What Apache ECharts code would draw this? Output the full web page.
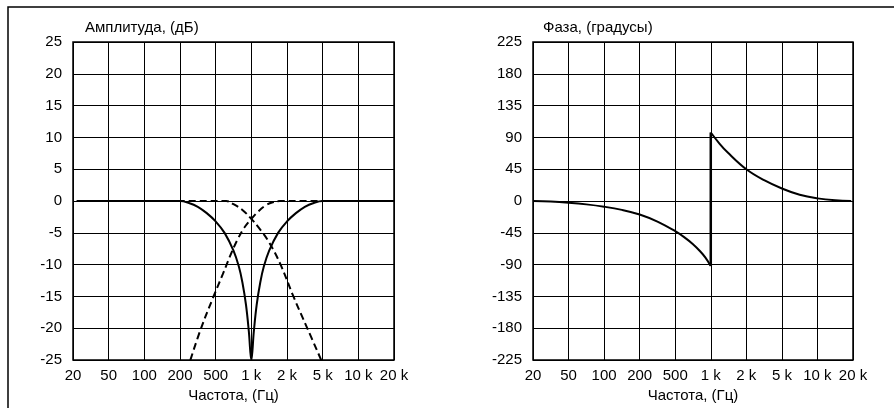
<!DOCTYPE html>
<html>
<head>
<meta charset="utf-8">
<script src="https://cdn.jsdelivr.net/npm/echarts@6.0.0/dist/echarts.min.js"></script>
<style>
  html, body { margin: 0; padding: 0; background: #fff; }
  #chart { width: 894px; height: 408px; }
</style>
</head>
<body>
<div id="chart"></div>
<script>
// frequency tick labels, equally spaced (index 0..9)
const freqLabels = ['20', '50', '100', '200', '500', '1 k', '2 k', '5 k', '10 k', '20 k'];

// amplitude, dB  [index, value]
const notchAmp = [
  [0.1, 0], [2.5, 0], [3, 0], [3.25, -0.3], [3.5, -0.9], [3.75, -1.9], [4, -3.2], [4.25, -5],
  [4.5, -7.8], [4.65, -10.3], [4.75, -12.8], [4.85, -16.3], [4.93, -20.5], [5, -25],
  [5.07, -20.5], [5.15, -16.3], [5.25, -12.8], [5.35, -10.3], [5.5, -7.8], [5.75, -5],
  [6, -3.2], [6.25, -1.9], [6.5, -0.9], [6.75, -0.3], [7, 0], [7.5, 0], [9, 0]
];
const lowpassAmp = [
  [1.7, 0], [3.5, 0], [4.3, 0], [4.5, -0.5], [4.75, -1.4], [5, -2.8], [5.25, -4.5], [5.5, -6.5],
  [5.82, -10], [6.18, -15], [6.57, -20], [6.96, -25]
];
const highpassAmp = [
  [3.29, -25], [3.59, -20], [3.94, -15], [4.2, -11.5], [4.4, -8.7], [4.6, -6.2], [4.8, -4.2],
  [5, -2.8], [5.2, -1.6], [5.4, -0.7], [5.6, -0.2], [5.8, 0], [6.5, 0], [8.3, 0]
];

// phase, degrees
const phaseLow = [
  [0, 0], [0.5, -0.8], [1, -2.4], [1.5, -4.7], [2, -8], [2.5, -12.5], [3, -19], [3.5, -29], [4, -42.6],
  [4.25, -51], [4.5, -61], [4.7, -71], [4.85, -80], [5, -92]
];
const phaseJump = [[5, -92], [5, 97]];
const phaseHigh = [
  [5, 97], [5.25, 81], [5.47, 69], [6, 45], [6.5, 29.5], [7, 17.8], [7.5, 8.9],
  [8, 3.8], [8.5, 1], [8.95, 0]
];

const font = 'Liberation Sans, Arial, sans-serif';
const fs = 15;
const chart = echarts.init(document.getElementById('chart'));

function xAxis(gi) {
  return {
    type: 'value', gridIndex: gi, min: 0, max: 9, interval: 1,
    name: 'Частота, (Гц)', nameLocation: 'middle', nameGap: 27,
    nameTextStyle: { color: '#000', fontSize: fs, fontFamily: font },
    axisLine: { show: false }, axisTick: { show: false },
    axisLabel: { margin: 8, color: '#000', fontSize: fs, fontFamily: font,
      formatter: v => freqLabels[v] },
    splitLine: { lineStyle: { color: '#000', width: 1 } }
  };
}
function yAxis(gi, min, max, step) {
  return {
    type: 'value', gridIndex: gi, min: min, max: max, interval: step,
    axisLine: { show: false }, axisTick: { show: false },
    axisLabel: { margin: 11, color: '#000', fontSize: fs, fontFamily: font },
    splitLine: { lineStyle: { color: '#000', width: 1 } }
  };
}
function line(data, xi, opts) {
  return Object.assign({
    type: 'line', data: data, xAxisIndex: xi, yAxisIndex: xi,
    showSymbol: false, symbol: 'none', smooth: 0.4,
    lineStyle: { color: '#000', width: 2 }, animation: false
  }, opts || {});
}

chart.setOption({
  backgroundColor: '#fff',
  animation: false,
  grid: [
    { left: 73, top: 42, width: 321, height: 320, show: true, borderColor: '#000', borderWidth: 1.5, backgroundColor: 'transparent' },
    { left: 533, top: 42, width: 320, height: 320, show: true, borderColor: '#000', borderWidth: 1.5, backgroundColor: 'transparent' }
  ],
  xAxis: [xAxis(0), xAxis(1)],
  yAxis: [yAxis(0, -25, 25, 5), yAxis(1, -225, 225, 45)],
  graphic: [
    { type: 'rect', shape: { x: 8, y: 7, width: 920, height: 440 },
      style: { fill: 'none', stroke: '#000', lineWidth: 1.5 }, silent: true },
    { type: 'text', left: 85, top: 20,
      style: { text: 'Амплитуда, (дБ)', fill: '#000', font: fs + 'px ' + font } },
    { type: 'text', left: 543, top: 20,
      style: { text: 'Фаза, (градусы)', fill: '#000', font: fs + 'px ' + font } }
  ],
  series: [
    line(notchAmp, 0),
    line(lowpassAmp, 0, { lineStyle: { color: '#000', width: 2, type: [7, 4] } }),
    line(highpassAmp, 0, { lineStyle: { color: '#000', width: 2, type: [7, 4] } }),
    line(phaseLow, 1),
    line(phaseJump, 1, { smooth: false, lineStyle: { color: '#000', width: 2.5 } }),
    line(phaseHigh, 1)
  ]
});
</script>
</body>
</html>
